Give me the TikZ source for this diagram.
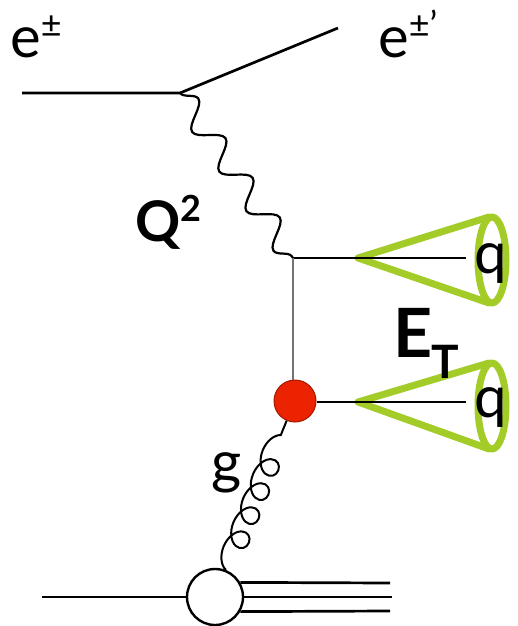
\documentclass[tikz,border=0pt]{standalone}
\usepackage{fontspec}
\setmainfont{Lato}
\usetikzlibrary{decorations.pathmorphing}
\definecolor{jetgreen}{RGB}{163,204,40}
\definecolor{blobred}{RGB}{235,35,0}
\definecolor{linegray}{RGB}{115,115,115}
\begin{document}
\begin{tikzpicture}[x=1pt,y=-1pt,
  fermion/.style={line width=2.7pt,black},
  photon/.style={line width=2.2pt,black,decorate,decoration={snake,segment length=48pt,amplitude=12pt}},
  gluon/.style={line width=2pt,black,decorate,decoration={coil,segment length=26pt,amplitude=11pt,aspect=1.3}},
  jet/.style={line width=7pt,jetgreen,line join=round,line cap=round},
  lbl/.style={inner sep=0pt,anchor=base west,font=\fontsize{58}{58}\selectfont},
  blbl/.style={inner sep=0pt,anchor=base west,font=\fontsize{56}{56}\selectfont\bfseries}]
\useasboundingbox (0,0) rectangle (517,626);
% vertices
\coordinate (ein) at (22,93);
\coordinate (v1) at (180,93);
\coordinate (eout) at (338,28);
\coordinate (v2) at (293,258);
\coordinate (q1end) at (466,258);
\coordinate (q2end) at (466,402);
\node[circle,minimum size=42pt,inner sep=0pt,fill=blobred,draw=blobred!70!black,line width=1pt] (hv) at (295,401) {};
\node[circle,minimum size=56pt,inner sep=0pt,draw=black,line width=2.4pt,fill=white] (p) at (215,597) {};
\coordinate (pin) at (42,597);
\coordinate (r1) at (390,583);
\coordinate (r2) at (392,597);
\coordinate (r3) at (390,611);
% jets
\coordinate (a1) at (358,258);
\coordinate (c1) at (492,260);
\coordinate (a2) at (358,402);
\coordinate (c2) at (492,406);
\draw[jet] (c1) ellipse [x radius=14,y radius=43];
\draw[jet] (489,217) -- (a1) -- (489,303);
\draw[jet] (c2) ellipse [x radius=14,y radius=43];
\draw[jet] (489,363) -- (a2) -- (489,449);
% lines
\draw[fermion] (ein) -- (v1) -- (eout);
\draw[photon] (v1) -- (v2);
\draw[fermion] (v2) -- (q1end);
\draw[line width=2.4pt,linegray] (v2) -- (hv.north -| v2);
\draw[fermion] (hv.east |- q2end) -- (q2end);
\draw[gluon] (p.68) -- (hv.247);
\draw[fermion] (pin) -- (p.west);
\draw[fermion] (p.30) -- (r1);
\draw[fermion] (p.east) -- (r2);
\draw[fermion] (p.-30) -- (r3);
% labels
\node[lbl] (le1) at (10,58) {e\raisebox{0.36em}{\fontsize{36}{36}\selectfont ±}};
\node[lbl] (le2) at (378,58) {e\raisebox{0.36em}{\fontsize{36}{36}\selectfont ±’}};
\node[blbl] (lQ) at (135,241) {Q\raisebox{0.34em}{\fontsize{36}{36}\selectfont 2}};
\node[lbl] (lq1) at (474,273) {q};
\node[lbl] (lq2) at (474,417) {q};
\node[inner sep=0pt,anchor=base west,font=\fontsize{68}{68}\selectfont\bfseries] (lE) at (393,357) {E\kern-1pt\raisebox{-0.32em}{\fontsize{46}{46}\selectfont T}};
\node[lbl] (lg) at (211,482) {g};
\end{tikzpicture}
\end{document}
